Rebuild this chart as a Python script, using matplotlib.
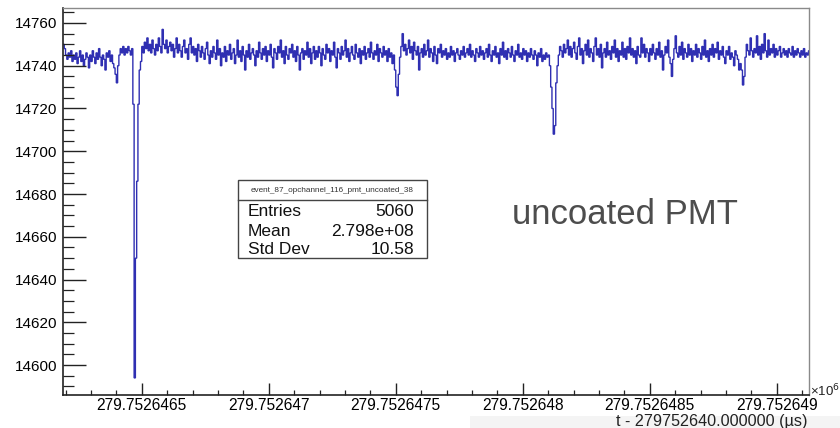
import numpy as np
import matplotlib
matplotlib.use("Agg")
import matplotlib.pyplot as plt
from matplotlib.ticker import MultipleLocator
from matplotlib.patches import Rectangle

plt.rcParams['font.family'] = ['Liberation Sans', 'DejaVu Sans']

# ---- data ----
t_start = 279752646.19   # first bin edge (us)
bin_width = 0.005        # us
adc_counts = [
    14750, 14748, 14745, 14743, 14746, 14744, 14747, 14742, 14745, 14743,
    14746, 14741, 14744, 14747, 14742, 14745, 14740, 14743, 14746, 14744,
    14739, 14745, 14742, 14747, 14744, 14741, 14746, 14743, 14748, 14744,
    14740, 14745, 14743, 14738, 14746, 14744, 14747, 14742, 14745, 14741,
    14739, 14736, 14732, 14740, 14745, 14748, 14746, 14749, 14745, 14748,
    14746, 14749, 14747, 14745, 14748, 14722, 14594, 14650, 14686, 14722,
    14738, 14742, 14749, 14746, 14751, 14748, 14753, 14747, 14750, 14746,
    14752, 14748, 14745, 14750, 14747, 14753, 14749, 14746, 14757, 14750,
    14748, 14752, 14746, 14749, 14751, 14747, 14750, 14744, 14748, 14753,
    14746, 14750, 14747, 14744, 14749, 14752, 14746, 14748, 14743, 14750,
    14753, 14746, 14749, 14745, 14748, 14742, 14750, 14747, 14744, 14749,
    14746, 14743, 14748, 14751, 14745, 14741, 14747, 14744, 14749, 14746,
    14743, 14752, 14745, 14748, 14740, 14746, 14744, 14749, 14742, 14747,
    14745, 14750, 14743, 14746, 14748, 14741, 14745, 14752, 14744, 14747,
    14742, 14749, 14745, 14738, 14747, 14744, 14750, 14743, 14746, 14748,
    14745, 14740, 14747, 14744, 14751, 14746, 14743, 14748, 14745, 14749,
    14742, 14747, 14745, 14750, 14744, 14739, 14748, 14746, 14743, 14749,
    14746, 14752, 14744, 14747, 14741, 14749, 14745, 14743, 14748, 14746,
    14750, 14744, 14747, 14742, 14749, 14745, 14738, 14746, 14748, 14743,
    14747, 14745, 14751, 14744, 14748, 14741, 14746, 14749, 14743, 14747,
    14744, 14749, 14746, 14740, 14748, 14745, 14743, 14750, 14746, 14748,
    14742, 14747, 14745, 14751, 14744, 14739, 14748, 14746, 14743, 14749,
    14745, 14747, 14752, 14744, 14748, 14742, 14746, 14749, 14745, 14743,
    14750, 14746, 14744, 14748, 14741, 14747, 14745, 14749, 14743, 14746,
    14748, 14744, 14751, 14746, 14743, 14747, 14745, 14750, 14742, 14748,
    14746, 14744, 14749, 14745, 14747, 14742, 14748, 14744, 14746, 14741,
    14745, 14738, 14730, 14726, 14736, 14744, 14749, 14755, 14747, 14750,
    14745, 14748, 14752, 14746, 14749, 14743, 14751, 14747, 14745, 14749,
    14738, 14746, 14748, 14744, 14750, 14745, 14747, 14752, 14744, 14748,
    14746, 14742, 14749, 14745, 14741, 14748, 14746, 14750, 14744, 14747,
    14745, 14748, 14743, 14746, 14744, 14749, 14745, 14747, 14742, 14746,
    14748, 14745, 14743, 14747, 14745, 14749, 14744, 14746, 14748, 14745,
    14750, 14744, 14747, 14745, 14742, 14748, 14746, 14744, 14749, 14745,
    14747, 14743, 14746, 14748, 14744, 14750, 14745, 14742, 14747, 14745,
    14749, 14744, 14746, 14741, 14748, 14745, 14751, 14744, 14747, 14743,
    14748, 14746, 14744, 14749, 14745, 14742, 14747, 14745, 14750, 14744,
    14746, 14743, 14748, 14745, 14747, 14742, 14746, 14744, 14748, 14745,
    14743, 14747, 14745, 14740, 14746, 14744, 14748, 14742, 14745, 14743,
    14746, 14744, 14745, 14740, 14730, 14720, 14708, 14712, 14732, 14740,
    14745, 14749, 14747, 14744, 14750, 14746, 14748, 14752, 14745, 14749,
    14744, 14748, 14751, 14746, 14743, 14749, 14753, 14745, 14748, 14741,
    14747, 14750, 14745, 14752, 14744, 14748, 14746, 14742, 14749, 14753,
    14745, 14748, 14744, 14750, 14739, 14746, 14748, 14744, 14751, 14745,
    14747, 14743, 14749, 14746, 14752, 14744, 14748, 14742, 14747, 14745,
    14751, 14744, 14748, 14743, 14749, 14746, 14753, 14745, 14748, 14744,
    14747, 14741, 14749, 14745, 14744, 14753, 14746, 14750, 14744, 14748,
    14746, 14742, 14748, 14745, 14750, 14746, 14743, 14748, 14745, 14751,
    14744, 14747, 14738, 14745, 14749, 14746, 14752, 14744, 14741, 14735,
    14743, 14748, 14754, 14746, 14744, 14749, 14745, 14751, 14743, 14748,
    14746, 14744, 14750, 14745, 14748, 14742, 14747, 14745, 14750, 14744,
    14748, 14746, 14743, 14749, 14745, 14752, 14744, 14747, 14742, 14748,
    14745, 14750, 14744, 14748, 14746, 14751, 14743, 14747, 14745, 14749,
    14744, 14741, 14747, 14745, 14749, 14743, 14746, 14744, 14740, 14747,
    14745, 14743, 14738, 14741, 14738, 14731, 14735, 14744, 14750, 14747,
    14745, 14753, 14747, 14744, 14748, 14746, 14754, 14745, 14749, 14743,
    14750, 14746, 14755, 14747, 14744, 14752, 14745, 14748, 14746, 14750,
    14744, 14748, 14745, 14747, 14749, 14744, 14746, 14748, 14745, 14747,
    14744, 14748, 14746, 14745, 14749, 14744, 14747, 14745, 14748, 14746,
    14744, 14747, 14745, 14748, 14744, 14746, 14745, 14747,
]
x_ticks = [279752646.5, 279752647.0, 279752647.5, 279752648.0, 279752648.5, 279752649.0]
x_tick_labels = ["279.7526465", "279.752647", "279.7526475", "279.752648",
                 "279.7526485", "279.752649"]
y_ticks = [14600, 14620, 14640, 14660, 14680, 14700, 14720, 14740, 14760]
hist_title = "event_87_opchannel_116_pmt_uncoated_38"
stats_names = ["Entries", "Mean", "Std Dev"]
stats_values = ["5060", "2.798e+08", "10.58"]
x_title = "t - 279752640.000000 (\u00b5s)"
annotation = "uncoated PMT"

# ---- figure ----
W, H = 840, 428
fig = plt.figure(figsize=(W / 100, H / 100), dpi=100)

# faint grey strip at the bottom right (as in the reference screenshot)
fig.patches.append(Rectangle((470 / W, 0), (W - 470) / W, 12 / H,
                             transform=fig.transFigure, facecolor='#f4f4f4',
                             edgecolor='none', zorder=0))

ax = fig.add_axes([63 / W, 1 - 395 / H, (809 - 63) / W, (395 - 8) / H])
ax.patch.set_alpha(0)

edges = t_start + bin_width * np.arange(len(adc_counts) + 1)
ax.stairs(adc_counts, edges, color='#2f2fb2', linewidth=1.0, baseline=None)

ax.set_xlim(t_start, t_start + 2.937)
ax.set_ylim(14586, 14767)

ax.set_xticks(x_ticks)
ax.set_xticklabels(x_tick_labels)
ax.xaxis.set_minor_locator(MultipleLocator(0.1))
ax.set_yticks(y_ticks)
ax.set_yticklabels([str(v) for v in y_ticks])
ax.yaxis.set_minor_locator(MultipleLocator(5))

ax.tick_params(axis='y', which='major', direction='in', length=16.5, width=1.0,
               labelsize=11, pad=4, color='#222222')
ax.tick_params(axis='y', which='minor', direction='in', length=8, width=0.9, color='#222222')
ax.tick_params(axis='x', which='major', direction='in', length=8.6, width=1.0,
               labelsize=11.2, pad=2, color='#222222')
ax.tick_params(axis='x', which='minor', direction='in', length=3.6, width=0.9, color='#222222')
ax.tick_params(top=False, right=False, which='both')

for s in ['left', 'bottom']:
    ax.spines[s].set_color('#222222')
    ax.spines[s].set_linewidth(1.2)
for s in ['top', 'right']:
    ax.spines[s].set_color('#8a8a8a')
    ax.spines[s].set_linewidth(1.0)

# x-axis title (right aligned) and exponent
fig.text(808 / W, 1 - 421.5 / H, x_title, ha='right', va='center', fontsize=11.6, color='#222222')
fig.text(810 / W, 1 - 391 / H, "\u00d710$^{6}$", ha='left', va='center', fontsize=9.5, color='#222222')

# stats box
bx0, bx1, by0, by1, byh = 238, 427, 180, 258, 200
fig.patches.append(Rectangle((bx0 / W, 1 - by1 / H), (bx1 - bx0) / W, (by1 - by0) / H,
                             transform=fig.transFigure, facecolor='white',
                             edgecolor='#444444', linewidth=1.0, zorder=5))
fig.add_artist(plt.Line2D([bx0 / W, bx1 / W], [1 - byh / H, 1 - byh / H],
                          transform=fig.transFigure, color='#444444', linewidth=1.0, zorder=6))
fig.text((bx0 + bx1) / 2 / W, 1 - 190 / H, hist_title, ha='center', va='center',
         fontsize=5.9, color='#333333', zorder=7)
row_y = [211, 231, 250]
for name, val, yy in zip(stats_names, stats_values, row_y):
    fig.text(248 / W, 1 - yy / H, name, ha='left', va='center', fontsize=12.5,
             color='#111111', zorder=7)
    fig.text(414 / W, 1 - yy / H, val, ha='right', va='center', fontsize=12.5,
             color='#111111', zorder=7)

# annotation
fig.text(625 / W, 1 - 214 / H, annotation, ha='center', va='center', fontsize=25,
         color='#4d4d4d')

fig.savefig('out.png', dpi=100)
